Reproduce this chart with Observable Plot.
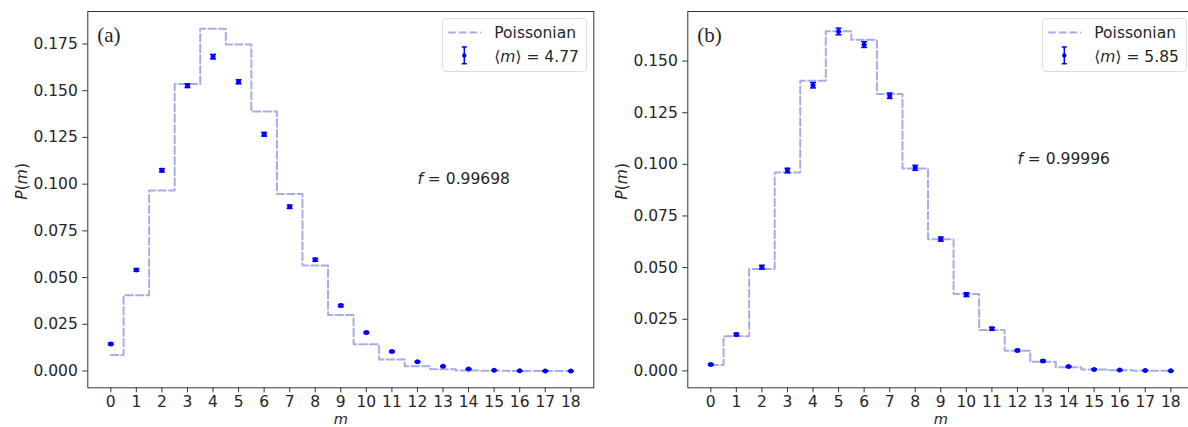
<!DOCTYPE html>
<html><head><meta charset="utf-8">
<script src="https://cdn.jsdelivr.net/npm/d3@7"></script>
<script src="https://cdn.jsdelivr.net/npm/@observablehq/plot@0.6"></script>
<style>
html,body{margin:0;padding:0;background:#fff;overflow:hidden;}
#wrap{position:relative;width:1188px;height:427px;overflow:hidden;background:#fff;}
.panel{position:absolute;top:0;width:600px;height:427px;}
.panel svg{display:block;}
.legend{position:absolute;left:441.7px;top:18.3px;}
</style></head><body><div id="wrap"></div>
<script>
// ---- data ----
const m = [0,1,2,3,4,5,6,7,8,9,10,11,12,13,14,15,16,17,18];

const poissonA = [0.0086,0.0405,0.0966,0.1536,0.1832,0.1748,0.1389,0.0947,0.0565,0.0299,0.0143,0.0062,0.0025,0.0009,0.0003,0.0001,0.0000,0.0000,0.0000];
const measA    = [0.0145,0.0541,0.1074,0.1527,0.1682,0.1548,0.1267,0.0879,0.0595,0.0350,0.0206,0.0104,0.0049,0.0025,0.0011,0.0004,0.0001,0.0000,0.0000];
const errA     = [0.0005,0.0007,0.0009,0.0010,0.0012,0.0011,0.0010,0.0009,0.0008,0.0006,0.0005,0.0004,0.0003,0.0002,0.0002,0.0001,0.0001,0.0001,0.0001];

const poissonB = [0.0029,0.0168,0.0493,0.0961,0.1405,0.1644,0.1603,0.1340,0.0980,0.0637,0.0372,0.0198,0.0097,0.0044,0.0018,0.0007,0.0003,0.0001,0.0000];
const measB    = [0.0031,0.0176,0.0502,0.0970,0.1383,0.1643,0.1580,0.1332,0.0983,0.0638,0.0369,0.0204,0.0099,0.0048,0.0021,0.0007,0.0004,0.0002,0.0000];
const errB     = [0.0004,0.0006,0.0009,0.0011,0.0013,0.0016,0.0014,0.0013,0.0012,0.0010,0.0009,0.0007,0.0005,0.0004,0.0003,0.0002,0.0002,0.0001,0.0001];

const yTicksA = [0,0.025,0.05,0.075,0.1,0.125,0.15,0.175];
const yTicksB = [0,0.025,0.05,0.075,0.1,0.125,0.15];

const panels = [
  {id:"(a)", poisson:poissonA, meas:measA, err:errA, yDomain:[-0.0090,0.1924], yTicks:yTicksA, mean:"4.77", f:"0.99698", left:0},
  {id:"(b)", poisson:poissonB, meas:measB, err:errB, yDomain:[-0.0082,0.1740], yTicks:yTicksB, mean:"5.85", f:"0.99996", left:600}
];

const stepColor = "#a6ade6";
const dotColor = "#0000ff";
const inkColor = "#262626";
const FS = 15.5;

const capSymbol = { draw(ctx){ ctx.moveTo(-3,0); ctx.lineTo(3,0); } };

const wrap = document.getElementById("wrap");

for (const P of panels) {
  const steps = m.map((k,i)=>({m:k, p:P.poisson[i]}));
  const pts = m.map((k,i)=>({m:k, p:P.meas[i], lo:P.meas[i]-P.err[i], hi:P.meas[i]+P.err[i]}));
  const plot = Plot.plot({
    width: 600, height: 427,
    marginLeft: 87.3, marginRight: 6.7, marginTop: 11, marginBottom: 39.7,
    style: {fontFamily: "DejaVu Sans", fontSize: FS+"px", color: inkColor, background: "transparent", overflow: "visible"},
    x: {domain: [-0.9, 18.9]},
    y: {domain: P.yDomain},
    marks: [
      Plot.axisX({ticks: m, tickSize: 5, tickPadding: 3.5, tickFormat: d => String(d), label: null, fontSize: FS, stroke: "#333", fill: inkColor}),
      Plot.axisY({ticks: P.yTicks, tickSize: 5, tickPadding: 5, tickFormat: d3.format(".3f"), label: null, fontSize: FS, stroke: "#333", fill: inkColor}),
      Plot.line(steps, {x: "m", y: "p", curve: "step", stroke: stepColor, strokeWidth: 2, strokeDasharray: "7.4 3.2"}),
      Plot.ruleX(pts, {x: "m", y1: "lo", y2: "hi", stroke: dotColor, strokeWidth: 1.5}),
      Plot.dot(pts, {x: "m", y: "lo", symbol: capSymbol, r: 3, stroke: dotColor, fill: "none", strokeWidth: 1.5}),
      Plot.dot(pts, {x: "m", y: "hi", symbol: capSymbol, r: 3, stroke: dotColor, fill: "none", strokeWidth: 1.5}),
      Plot.dot(pts, {x: "m", y: "p", r: 2.5, fill: dotColor, stroke: "none"}),
      Plot.text([P], {x: () => 12, y: () => 0.1, text: d => "f = " + d.f, textAnchor: "start", lineAnchor: "bottom", fontSize: FS, fill: inkColor}),
      Plot.text([P], {frameAnchor: "top-left", dx: 9.4, dy: 30, text: d => d.id, textAnchor: "start", lineAnchor: "bottom", fontFamily: "Liberation Serif", fontSize: 21, fill: inkColor}),
      Plot.text([P], {frameAnchor: "left", dx: -61.3, rotate: -90, text: () => "P(m)", lineAnchor: "bottom", fontSize: FS, fill: inkColor}),
      Plot.text([P], {frameAnchor: "bottom", dy: 36.3, text: () => "m", lineAnchor: "bottom", fontStyle: "italic", fontSize: 14.5, fill: inkColor}),
      Plot.frame({stroke: "#333", strokeWidth: 1})
    ]
  });
  d3.select(plot).selectAll("text").each(function(){
    const t = this.textContent;
    if (t === "P(m)") this.innerHTML = '<tspan font-style="italic">P</tspan>(<tspan font-style="italic">m</tspan>)';
    else if (t.startsWith("f = ")) this.innerHTML = '<tspan font-style="italic">f</tspan>' + t.slice(1);
  });
  const div = document.createElement("div");
  div.className = "panel";
  div.style.left = P.left + "px";
  div.appendChild(plot);

  // legend
  const lg = document.createElement("div");
  lg.className = "legend";
  lg.innerHTML = `<svg width="145" height="54" style="overflow:visible;font-family:'DejaVu Sans';font-size:${FS}px;fill:${inkColor}">
    <rect x="0.5" y="0.5" width="144" height="53" rx="3" ry="3" fill="rgba(255,255,255,0.85)" stroke="#dcdcdc" stroke-width="1"/>
    <line x1="6.3" x2="39.3" y1="14.4" y2="14.4" stroke="${stepColor}" stroke-width="2" stroke-dasharray="7.4 3.2"/>
    <text x="52.3" y="20">Poissonian</text>
    <line x1="22.3" x2="22.3" y1="29" y2="45.7" stroke="${dotColor}" stroke-width="1.5"/>
    <line x1="19.8" x2="24.8" y1="29" y2="29" stroke="${dotColor}" stroke-width="1.5"/>
    <line x1="19.8" x2="24.8" y1="45.7" y2="45.7" stroke="${dotColor}" stroke-width="1.5"/>
    <circle cx="22.3" cy="37.4" r="2.2" fill="${dotColor}"/>
    <text x="52.3" y="44">⟨<tspan font-style="italic">m</tspan>⟩ = ${P.mean}</text>
  </svg>`;
  div.appendChild(lg);
  wrap.appendChild(div);
}
</script></body></html>
